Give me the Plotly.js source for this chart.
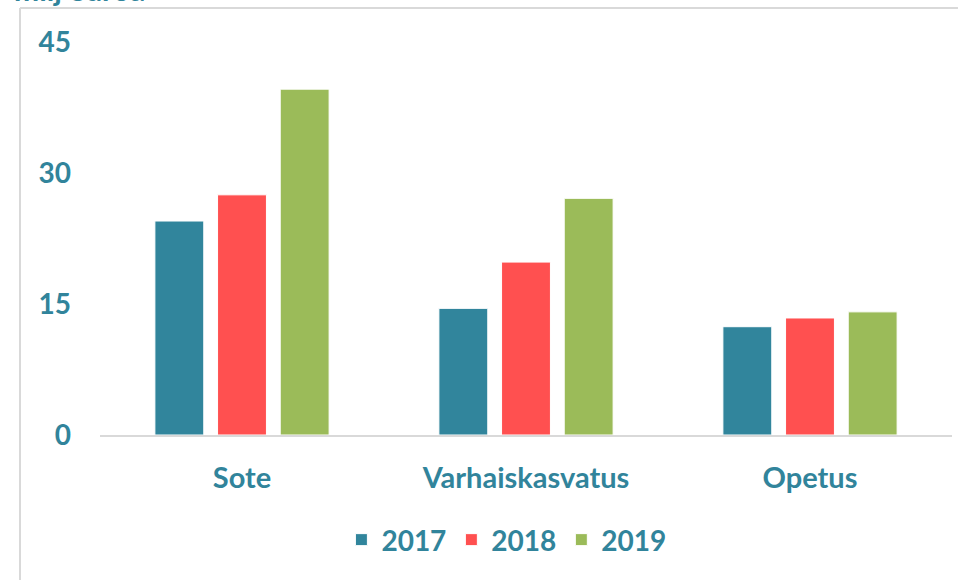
<!DOCTYPE html>
<html>
<head>
<meta charset="utf-8">
<script src="https://cdn.plot.ly/plotly-3.0.1.min.js"></script>
<style>html,body{margin:0;padding:0;background:#fff;}#chart{width:959px;height:580px;}</style>
</head>
<body>
<div id="chart"></div>
<script>
const categories = ["Sote", "Varhaiskasvatus", "Opetus"];
const years = ["2017", "2018", "2019"];
const values2017 = [24.5, 14.5, 12.4];
const values2018 = [27.5, 19.8, 13.4];
const values2019 = [39.6, 27.1, 14.1];
const colors = ["#31859C", "#FF5050", "#9BBB59"];
const yTicks = [0, 15, 30, 45];
const unitLabel = "milj euroa";

const series = [values2017, values2018, values2019];
const teal = "#31849B";
const fontFam = "Lato, 'Open Sans', sans-serif";

const traces = series.map((vals, i) => ({
  type: "bar",
  name: years[i],
  x: categories,
  y: vals,
  marker: {color: colors[i], line: {color: "#ffffff", width: 1}},
  hoverinfo: "x+y+name"
}));

const layout = {
  width: 959, height: 580,
  margin: {l: 100, r: 7, t: 42, b: 145},
  paper_bgcolor: "#ffffff", plot_bgcolor: "#ffffff",
  barmode: "group",
  bargap: 0.338,
  bargroupgap: 0.22,
  font: {family: fontFam, color: teal, size: 28, weight: "bold"},
  xaxis: {
    showgrid: false, zeroline: false, showline: true,
    linecolor: "#D9D9D9", linewidth: 2,
    ticks: "", ticklabelstandoff: 16,
    tickfont: {family: fontFam, color: teal, size: 29, weight: "bold"}
  },
  yaxis: {
    range: [0, 45], tickvals: yTicks, ticktext: yTicks.map(String),
    showgrid: false, zeroline: false, showline: false,
    ticks: "", ticklabelstandoff: 28,
    tickfont: {family: fontFam, color: teal, size: 28, weight: "bold"}
  },
  showlegend: true,
  legend: {
    orientation: "h", x: 0.477, xanchor: "center", y: -0.267, yanchor: "middle",
    font: {family: fontFam, color: teal, size: 28, weight: "bold"},
    traceorder: "normal"
  },
  shapes: [
    {type: "line", xref: "paper", yref: "paper", x0: -0.0939, x1: 1.007, y0: 1.0865, y1: 1.0865,
     line: {color: "#D9D9D9", width: 2}},
    {type: "line", xref: "paper", yref: "paper", x0: -0.0939, x1: -0.0939, y0: 1.0865, y1: -0.4,
     line: {color: "#D9D9D9", width: 2}}
  ],
  annotations: [
    {text: unitLabel, xref: "paper", yref: "paper", x: -0.103, xanchor: "left",
     y: 1.083, yanchor: "bottom", showarrow: false,
     font: {family: fontFam, color: teal, size: 30, weight: "bold"}}
  ]
};

Plotly.newPlot("chart", traces, layout, {displayModeBar: false, staticPlot: true});
</script>
</body>
</html>
